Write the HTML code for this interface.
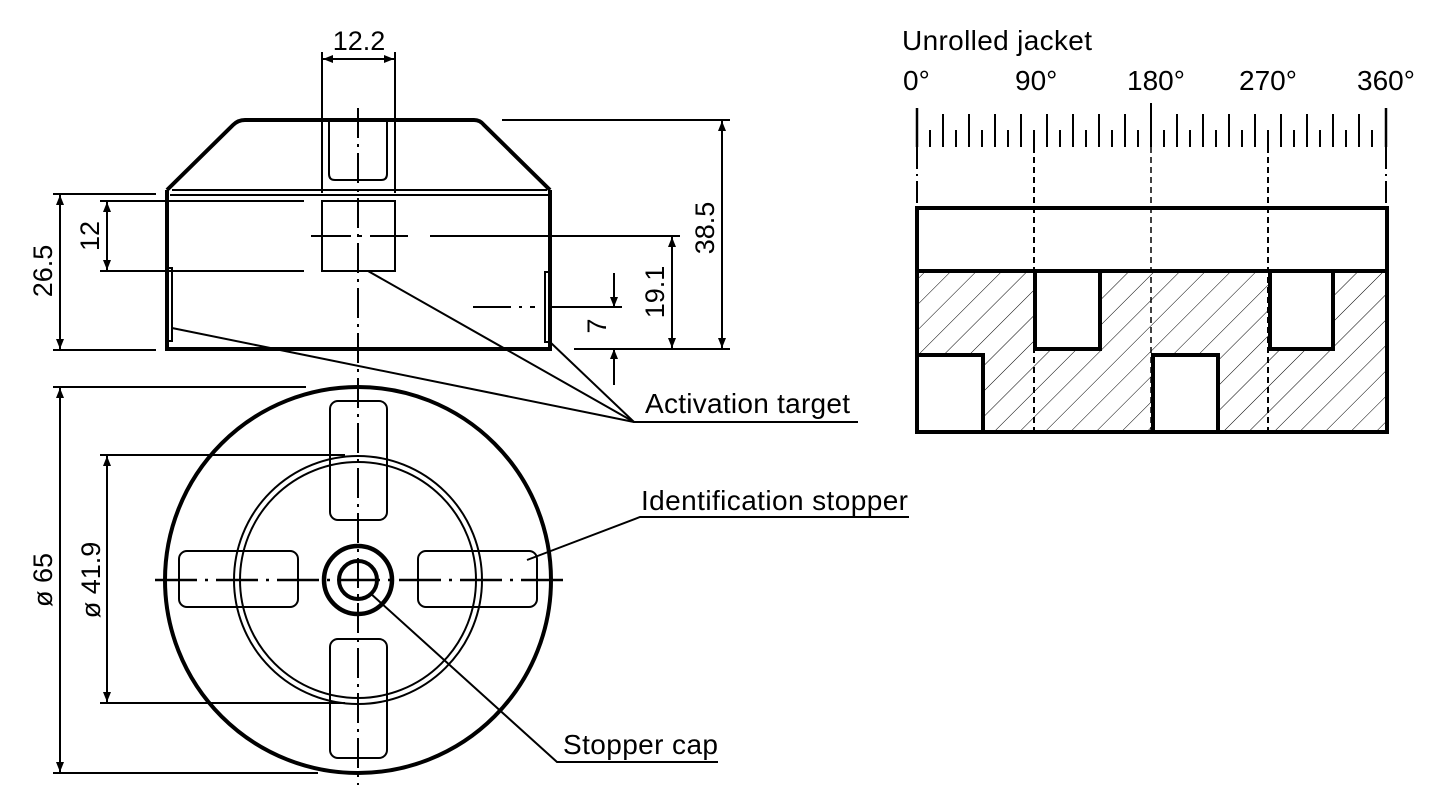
<!DOCTYPE html>
<html><head><meta charset="utf-8"><style>
html,body{margin:0;padding:0;background:#fff;}
svg{display:block;}
text{font-family:"Liberation Sans",sans-serif;fill:#000;}
</style></head><body>
<svg width="1441" height="803" viewBox="0 0 1441 803" xmlns="http://www.w3.org/2000/svg">
<defs>
<marker id="ar" viewBox="0 0 10 10" refX="10" refY="5" markerWidth="20" markerHeight="10" markerUnits="userSpaceOnUse" orient="auto-start-reverse"><path d="M0,1 L10,5 L0,9 z" fill="#000"/></marker>
<pattern id="hatch" patternUnits="userSpaceOnUse" width="18" height="18" patternTransform="rotate(45)"><line x1="0" y1="0" x2="0" y2="18" stroke="#000" stroke-width="1"/></pattern>
<clipPath id="hc"><rect x="916" y="271" width="471" height="161"/></clipPath>
</defs>
<g fill="none" stroke="#000" stroke-width="2">
<path d="M167,190 L233,125 Q238,120 245,120 L474,120 Q480,120 484,125 L550,190" stroke-width="4"/>
<line x1="172" y1="190" x2="547" y2="190"/>
<line x1="170" y1="195" x2="548" y2="195"/>
<path d="M167,190 L167,349 L550,349 L550,190" stroke-width="4"/>
<path d="M329,120 L329,174 Q329,180 335,180 L381,180 Q387,180 387,174 L387,120"/>
<rect x="322" y="201" width="73" height="70"/>
<rect x="167" y="268" width="5" height="73"/>
<rect x="545" y="272" width="5" height="70"/>
<line x1="358" y1="108" x2="358" y2="785" stroke-dasharray="30,6,3,6"/>
<line x1="311" y1="236" x2="408" y2="236" stroke-dasharray="40,8,3,8"/>
<line x1="430" y1="236" x2="680" y2="236"/>
<line x1="473" y1="307" x2="535" y2="307" stroke-dasharray="38,8,3,8"/>
<line x1="552" y1="307" x2="622" y2="307"/>
<line x1="322" y1="52" x2="322" y2="193"/>
<line x1="395" y1="52" x2="395" y2="193"/>
<line x1="323" y1="59" x2="394" y2="59" marker-start="url(#ar)" marker-end="url(#ar)"/>
<line x1="53" y1="194" x2="156" y2="194"/>
<line x1="53" y1="350" x2="156" y2="350"/>
<line x1="60" y1="195" x2="60" y2="349" marker-start="url(#ar)" marker-end="url(#ar)"/>
<line x1="100" y1="201" x2="304" y2="201"/>
<line x1="100" y1="271" x2="304" y2="271"/>
<line x1="107" y1="202" x2="107" y2="270" marker-start="url(#ar)" marker-end="url(#ar)"/>
<line x1="502" y1="120" x2="730" y2="120"/>
<line x1="574" y1="349" x2="730" y2="349"/>
<line x1="722" y1="121" x2="722" y2="348" marker-start="url(#ar)" marker-end="url(#ar)"/>
<line x1="672" y1="237" x2="672" y2="348" marker-start="url(#ar)" marker-end="url(#ar)"/>
<line x1="614" y1="273" x2="614" y2="307" marker-end="url(#ar)"/>
<line x1="614" y1="385" x2="614" y2="349" marker-end="url(#ar)"/>
<polyline points="368,271 634,422 858,422"/>
<line x1="172" y1="328" x2="634" y2="422"/>
<line x1="550" y1="342" x2="634" y2="422"/>
<circle cx="358" cy="580" r="193" stroke-width="4"/>
<circle cx="358" cy="580" r="124"/>
<circle cx="358" cy="580" r="118"/>
<rect x="330" y="401" width="57" height="119" rx="8"/>
<rect x="330" y="639" width="57" height="119" rx="8"/>
<rect x="179" y="551" width="119" height="56" rx="8"/>
<rect x="418" y="551" width="119" height="56" rx="8"/>
<circle cx="358" cy="580" r="34" stroke-width="4.5"/>
<circle cx="358" cy="580" r="19" stroke-width="4"/>
<line x1="155" y1="580" x2="563" y2="580" stroke-width="2.4" stroke-dasharray="42,8,3,8"/>
<line x1="53" y1="387" x2="306" y2="387"/>
<line x1="53" y1="773" x2="318" y2="773"/>
<line x1="60" y1="388" x2="60" y2="772" marker-start="url(#ar)" marker-end="url(#ar)"/>
<line x1="100" y1="455" x2="345" y2="455"/>
<line x1="100" y1="703" x2="345" y2="703"/>
<line x1="107" y1="456" x2="107" y2="702" marker-start="url(#ar)" marker-end="url(#ar)"/>
<polyline points="527,560 640,517 909,517"/>
<polyline points="370,593 557,762 718,762"/>
<rect x="916" y="271" width="471" height="161" fill="url(#hatch)" stroke="none" clip-path="url(#hc)"/>
<rect x="1035" y="271" width="65" height="78" fill="#fff" stroke="none"/>
<rect x="1269" y="271" width="64" height="78" fill="#fff" stroke="none"/>
<rect x="916" y="355" width="67" height="77" fill="#fff" stroke="none"/>
<rect x="1153" y="355" width="65" height="77" fill="#fff" stroke="none"/>
<line x1="1034" y1="147" x2="1034" y2="432" stroke-dasharray="6,4"/>
<line x1="1151" y1="147" x2="1151" y2="432" stroke-dasharray="6,4" stroke-width="1.5"/>
<line x1="1268" y1="147" x2="1268" y2="432" stroke-dasharray="6,4"/>
<line x1="917" y1="147" x2="917" y2="207" stroke-dasharray="22,5,2,5"/>
<line x1="1386" y1="147" x2="1386" y2="207" stroke-dasharray="22,5,2,5"/>
<rect x="917" y="208" width="470" height="224" stroke-width="4"/>
<line x1="917" y1="271" x2="1387" y2="271" stroke-width="4"/>
<polyline points="1035,271 1035,349 1100,349 1100,271" stroke-width="4"/>
<polyline points="1270,271 1270,349 1333,349 1333,271" stroke-width="4"/>
<polyline points="917,355 983,355 983,432" stroke-width="4"/>
<polyline points="1153,432 1153,355 1218,355 1218,432" stroke-width="4"/>
<line x1="917" y1="108" x2="917" y2="147" stroke-width="2.5"/>
<line x1="1386" y1="108" x2="1386" y2="147" stroke-width="2.5"/>
<line x1="1151" y1="103" x2="1151" y2="147" stroke-width="2"/>
<g stroke-width="2">
<line x1="930" y1="130" x2="930" y2="147"/><line x1="943" y1="114" x2="943" y2="147"/>
<line x1="956" y1="130" x2="956" y2="147"/><line x1="969" y1="114" x2="969" y2="147"/>
<line x1="982" y1="130" x2="982" y2="147"/><line x1="995" y1="114" x2="995" y2="147"/>
<line x1="1008" y1="130" x2="1008" y2="147"/><line x1="1021" y1="114" x2="1021" y2="147"/>
<line x1="1034" y1="130" x2="1034" y2="147"/><line x1="1047" y1="114" x2="1047" y2="147"/>
<line x1="1060" y1="130" x2="1060" y2="147"/><line x1="1073" y1="114" x2="1073" y2="147"/>
<line x1="1086" y1="130" x2="1086" y2="147"/><line x1="1099" y1="114" x2="1099" y2="147"/>
<line x1="1112" y1="130" x2="1112" y2="147"/><line x1="1125" y1="114" x2="1125" y2="147"/>
<line x1="1138" y1="130" x2="1138" y2="147"/>
<line x1="1164" y1="130" x2="1164" y2="147"/><line x1="1177" y1="114" x2="1177" y2="147"/>
<line x1="1190" y1="130" x2="1190" y2="147"/><line x1="1203" y1="114" x2="1203" y2="147"/>
<line x1="1216" y1="130" x2="1216" y2="147"/><line x1="1229" y1="114" x2="1229" y2="147"/>
<line x1="1242" y1="130" x2="1242" y2="147"/><line x1="1255" y1="114" x2="1255" y2="147"/>
<line x1="1268" y1="130" x2="1268" y2="147"/><line x1="1281" y1="114" x2="1281" y2="147"/>
<line x1="1294" y1="130" x2="1294" y2="147"/><line x1="1307" y1="114" x2="1307" y2="147"/>
<line x1="1320" y1="130" x2="1320" y2="147"/><line x1="1333" y1="114" x2="1333" y2="147"/>
<line x1="1346" y1="130" x2="1346" y2="147"/><line x1="1359" y1="114" x2="1359" y2="147"/>
<line x1="1372" y1="130" x2="1372" y2="147"/>
</g>
</g>
<g font-size="27">
<text x="359" y="50" text-anchor="middle">12.2</text>
<text transform="translate(99,236) rotate(-90)" text-anchor="middle">12</text>
<text transform="translate(52,271) rotate(-90)" text-anchor="middle">26.5</text>
<text transform="translate(714,228) rotate(-90)" text-anchor="middle">38.5</text>
<text transform="translate(664,292) rotate(-90)" text-anchor="middle">19.1</text>
<text transform="translate(606,326) rotate(-90)" text-anchor="middle">7</text>
<text transform="translate(52,580) rotate(-90)" text-anchor="middle">ø 65</text>
<text transform="translate(100,580) rotate(-90)" text-anchor="middle">ø 41.9</text>
</g>
<g font-size="28">
<text x="645" y="413" textLength="205">Activation target</text>
<text x="641" y="510" textLength="267">Identification stopper</text>
<text x="563" y="754" textLength="155">Stopper cap</text>
<text x="902" y="50" textLength="190">Unrolled jacket</text>
<text x="903" y="90">0°</text>
<text x="1015" y="90">90°</text>
<text x="1127" y="90">180°</text>
<text x="1239" y="90">270°</text>
<text x="1357" y="90">360°</text>
</g>
</svg>
</body></html>
